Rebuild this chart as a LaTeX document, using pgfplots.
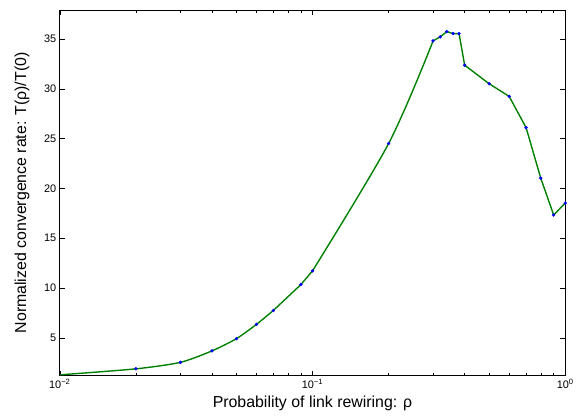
\documentclass[border=0pt]{standalone}
\usepackage{fontspec}
\setmainfont{Liberation Sans}
\usepackage{pgfplots}
\pgfplotsset{compat=1.18}
\definecolor{mgreen}{rgb}{0,0.5,0}
\begin{document}
\begin{tikzpicture}
\begin{axis}[
  scale only axis,
  width=507bp, height=367bp,
  xmode=log,
  xmin=0.01, xmax=1,
  ymin=1.2, ymax=37.9,
  ytick={5,10,15,20,25,30,35},
  xtick={0.01,0.1,1},
  xticklabels={10\textsuperscript{−2},10\textsuperscript{−1},10\textsuperscript{0}},
  /pgf/number format/assume math mode=true,
  tick align=inside,
  major tick length=5bp,
  minor tick length=3bp,
  every tick/.style={black, line width=0.4pt},
  axis line style={line width=0.8pt},
  tick label style={font=\fontsize{11}{13}\selectfont},
  label style={font=\fontsize{16}{19}\selectfont},
  xlabel={Probability of link rewiring: ρ},
  ylabel={Normalized convergence rate: T(ρ)/T(0)},
  xlabel style={at={(axis description cs:0.5,-0.087)}, anchor=base},
  ylabel style={at={(axis description cs:-0.075,0.5)}, anchor=center},
  clip=true,
]
\addplot[mgreen, line width=1.4pt, smooth, tension=0.4, line join=round] coordinates {
(0.01,1.3) (0.02,1.9) (0.03,2.55) (0.04,3.7) (0.05,4.93) (0.06,6.36) (0.07,7.76)
};
\addplot[mgreen, line width=1.4pt, sharp plot, line join=round] coordinates {
(0.07,7.76) (0.09,10.36) (0.1,11.73)
};
\addplot[mgreen, line width=1.4pt, smooth, tension=0.5, line join=round] coordinates {
(0.1,11.73) (0.2,24.5) (0.3,34.8)
};
\addplot[mgreen, line width=1.4pt, sharp plot, line join=round] coordinates {
(0.3,34.8) (0.32,35.2) (0.34,35.73) (0.36,35.53) (0.38,35.53) (0.4,32.36) (0.5,30.5) (0.6,29.23) (0.7,26.1) (0.8,21.03) (0.9,17.33) (1.0,18.53)
};
\addplot[only marks, mark=*, mark size=1.5pt, blue, mark options={draw=blue, fill=blue}] coordinates {
(0.02,1.9) (0.03,2.55) (0.04,3.7) (0.05,4.93) (0.06,6.36) (0.07,7.76) (0.09,10.36) (0.1,11.73) (0.2,24.5) (0.3,34.8)
(0.32,35.2) (0.34,35.73) (0.36,35.53) (0.38,35.53) (0.4,32.36) (0.5,30.5) (0.6,29.23) (0.7,26.1) (0.8,21.03) (0.9,17.33) (1.0,18.53)
};
\end{axis}
\path[use as bounding box] ([shift={(-60bp,-42bp)}]current axis.south west) rectangle ([shift={(10bp,10bp)}]current axis.north east);
\end{tikzpicture}
\end{document}
